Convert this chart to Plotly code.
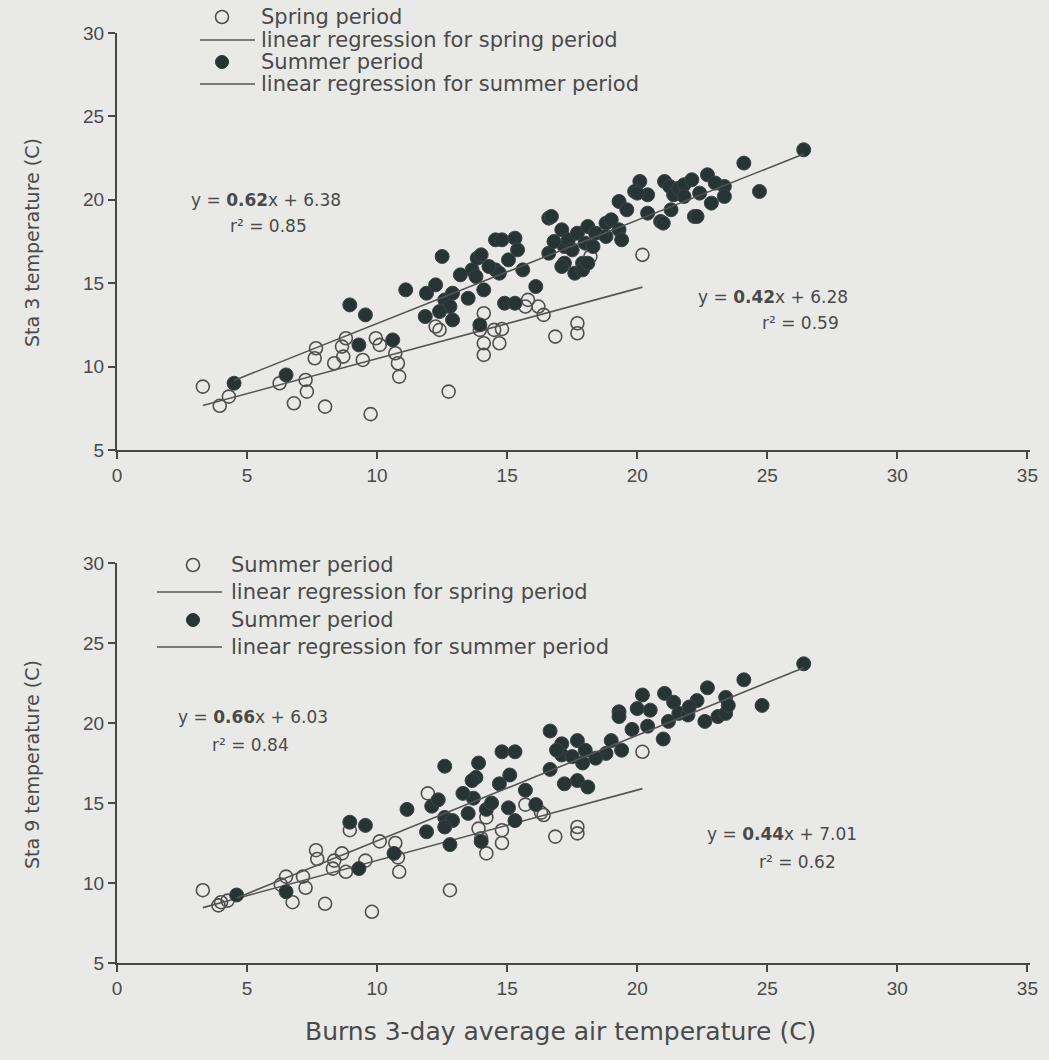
import plotly.graph_objects as go

# ---------------- data ----------------
# Station 3 (top panel)
spring3_x = [3.3, 3.95, 4.3, 6.25, 6.8, 7.25, 7.3, 8.0, 7.65, 7.6, 8.35, 8.7, 8.8, 8.65, 9.45, 9.75,
             9.95, 10.1, 10.7, 10.8, 10.85, 12.75, 12.25, 12.4, 14.1, 13.95, 14.1, 14.1, 14.5, 14.8,
             14.7, 15.8, 16.2, 16.4, 16.85, 17.7, 17.7, 20.2, 18.2, 15.7]
spring3_y = [8.8, 7.65, 8.2, 9.0, 7.8, 9.2, 8.5, 7.6, 11.1, 10.5, 10.2, 10.6, 11.7, 11.2, 10.4, 7.15,
             11.7, 11.3, 10.8, 10.2, 9.4, 8.5, 12.4, 12.2, 13.2, 12.2, 11.4, 10.7, 12.2, 12.25,
             11.4, 14.0, 13.6, 13.1, 11.8, 12.6, 12.0, 16.7, 16.6, 13.6]
summer3_x = [4.5, 6.5, 8.95, 9.55, 9.3, 10.6, 11.1, 11.9, 12.25, 12.5, 11.85, 12.6, 12.8, 12.9, 13.5,
             13.65, 13.85, 14.0, 13.8, 14.1, 13.95, 14.55, 14.55, 12.9, 14.8, 15.3, 14.7, 15.05, 15.6,
             16.1, 14.9, 15.3, 16.6, 17.1, 16.6, 17.2, 17.2, 17.35, 17.1, 17.6, 17.7, 18.1, 18.0,
             17.9, 18.4, 18.8, 19.0, 19.3, 19.4, 19.3, 20.1, 19.9, 20.4, 20.4, 21.05, 21.25, 21.4,
             21.6, 21.8, 22.1, 21.3, 20.9, 22.2, 22.7, 22.85, 23.35, 23.35, 24.1, 24.7, 26.4, 16.7,
             17.9, 18.1, 18.8, 20.0, 21.0, 22.3, 17.5, 18.3, 21.8, 22.4, 23.0, 19.6, 16.8, 15.4,
             14.3, 13.2, 12.4]
summer3_y = [9.0, 9.5, 13.7, 13.1, 11.3, 11.6, 14.6, 14.4, 14.9, 16.6, 13.0, 14.0, 13.6, 12.8, 14.1,
             15.8, 16.5, 16.7, 15.4, 14.6, 12.5, 15.8, 17.6, 14.4, 17.6, 17.7, 15.6, 16.4, 15.8,
             14.8, 13.8, 13.8, 18.9, 18.2, 16.8, 16.2, 17.2, 17.6, 16.0, 15.6, 18.0, 18.4, 17.4,
             16.2, 18.0, 18.6, 18.8, 18.2, 17.6, 19.9, 21.1, 20.5, 20.3, 19.2, 21.1, 20.8, 20.3,
             20.7, 20.9, 21.2, 19.4, 18.7, 19.0, 21.5, 19.8, 20.8, 20.2, 22.2, 20.5, 23.0, 19.0,
             15.8, 16.2, 17.8, 20.4, 18.6, 19.0, 17.0, 17.2, 20.2, 20.4, 21.0, 19.4, 17.5, 17.0,
             16.0, 15.5, 13.3]

# Station 9 (bottom panel)
spring9_x = [3.3, 3.9, 4.25, 4.0, 6.5, 6.75, 6.3, 7.15, 7.25, 8.0, 7.65, 7.7, 8.3, 8.35, 8.65, 8.8,
             8.95, 9.8, 9.55, 10.1, 10.7, 10.8, 10.85, 12.8, 11.95, 13.9, 14.2, 14.8, 14.8, 14.2,
             14.0, 15.7, 16.3, 16.85, 16.4, 17.7, 17.7, 20.2]
spring9_y = [9.55, 8.6, 8.9, 8.8, 10.4, 8.8, 9.9, 10.4, 9.7, 8.7, 12.05, 11.5, 10.9, 11.4, 11.85, 10.7,
             13.3, 8.2, 11.4, 12.6, 12.5, 11.6, 10.7, 9.55, 15.6, 13.4, 14.1, 13.3, 12.5, 11.85,
             12.8, 14.9, 14.4, 12.9, 14.25, 13.5, 13.1, 18.2]
summer9_x = [4.6, 6.5, 8.95, 9.55, 9.3, 10.65, 11.15, 12.6, 12.1, 12.35, 12.6, 12.9, 12.6, 11.9, 12.8,
             13.5, 13.7, 13.9, 13.8, 13.65, 14.0, 14.2, 14.8, 15.3, 14.7, 15.1, 15.05, 15.3, 15.7,
             16.1, 16.65, 16.65, 17.1, 17.1, 17.2, 17.7, 18.0, 17.5, 17.7, 18.1, 18.8, 19.0, 19.4,
             19.3, 19.3, 20.2, 20.0, 20.5, 20.4, 21.0, 21.2, 21.05, 21.4, 21.6, 21.95, 22.3, 22.7,
             22.6, 23.1, 23.4, 23.4, 23.5, 24.1, 24.8, 26.4, 17.9, 18.4, 19.8, 16.9, 22.0, 14.4,
             13.3]
summer9_y = [9.25, 9.45, 13.8, 13.6, 10.9, 11.85, 14.6, 17.3, 14.8, 15.2, 14.1, 13.9, 13.5, 13.2, 12.4,
             14.35, 15.3, 17.5, 16.6, 16.4, 12.6, 14.6, 18.2, 18.2, 16.2, 16.75, 14.7, 13.9, 15.8,
             14.9, 17.1, 19.5, 18.7, 18.0, 16.2, 18.9, 18.3, 17.9, 16.4, 16.0, 18.1, 18.9, 18.3,
             20.7, 20.4, 21.75, 20.9, 20.8, 19.8, 19.0, 20.1, 21.85, 21.3, 20.6, 20.5, 21.4, 22.2,
             20.1, 20.4, 21.6, 20.6, 21.1, 22.7, 21.1, 23.7, 17.5, 17.8, 19.6, 18.3, 21.0, 15.0,
             15.6]

# regression coefficients: [spring, summer]
slope3 = [0.42, 0.62]
intercept3 = [6.28, 6.38]
r2_3 = [0.59, 0.85]
slope9 = [0.44, 0.66]
intercept9 = [7.01, 6.03]
r2_9 = [0.62, 0.84]

legend3_labels = ["Spring period", "linear regression for spring period",
                  "Summer period", "linear regression for summer period"]
legend9_labels = ["Summer period", "linear regression for spring period",
                  "Summer period", "linear regression for summer period"]

x_ticks = [0, 5, 10, 15, 20, 25, 30, 35]
y_ticks = [5, 10, 15, 20, 25, 30]

# ---------------- style ----------------
BG = "#e9e9e7"
TXT = "#4a4a4a"
AX = "#474747"
DARK = "#283434"
OPEN = "#4f4f4f"
LINE = "#555555"
FONT = "DejaVu Sans, Verdana, sans-serif"
TICKFONT = "Liberation Sans, Arial, sans-serif"
W, H = 1049, 1060

fig = go.Figure()


def add_panel(sx, sy, wx, wy, slopes, ints, labels, xa, ya):
    fig.add_trace(go.Scatter(x=sx, y=sy, mode="markers", name=labels[0], xaxis=xa, yaxis=ya,
                             showlegend=False,
                             marker=dict(symbol="circle-open", size=13, color=OPEN,
                                         line=dict(width=1.6, color=OPEN))))
    lx0 = [min(sx), max(sx)]
    fig.add_trace(go.Scatter(x=lx0, y=[slopes[0] * v + ints[0] for v in lx0], mode="lines",
                             name=labels[1], xaxis=xa, yaxis=ya, showlegend=False,
                             line=dict(color=LINE, width=1.6)))
    fig.add_trace(go.Scatter(x=wx, y=wy, mode="markers", name=labels[2], xaxis=xa, yaxis=ya,
                             showlegend=False,
                             marker=dict(symbol="circle", size=14, color=DARK,
                                         line=dict(width=1, color="#3a4646"))))
    lx1 = [min(wx), max(wx)]
    fig.add_trace(go.Scatter(x=lx1, y=[slopes[1] * v + ints[1] for v in lx1], mode="lines",
                             name=labels[3], xaxis=xa, yaxis=ya, showlegend=False,
                             line=dict(color=LINE, width=1.6)))


add_panel(spring3_x, spring3_y, summer3_x, summer3_y, slope3, intercept3, legend3_labels, "x", "y")
add_panel(spring9_x, spring9_y, summer9_x, summer9_y, slope9, intercept9, legend9_labels, "x2", "y2")

x_dom = [117 / W, 1030 / W]
top_dom = [1 - 450 / H, 1 - 33 / H]
bot_dom = [1 - 963 / H, 1 - 563 / H]

axis_common = dict(showline=True, linecolor=AX, linewidth=2, ticks="outside", tickcolor=AX,
                   tickwidth=1.5, ticklen=7, showgrid=False, zeroline=False, automargin=False,
                   tickfont=dict(family=TICKFONT, size=19, color=TXT))

fig.update_layout(
    width=W, height=H,
    margin=dict(l=0, r=0, t=0, b=0, pad=0, autoexpand=False),
    paper_bgcolor=BG, plot_bgcolor=BG,
    font=dict(family=FONT, color=TXT),
    showlegend=False,
    xaxis=dict(domain=x_dom, range=[0, 35.1], tickvals=x_ticks, anchor="y", **axis_common),
    yaxis=dict(domain=top_dom, range=[5, 30], tickvals=y_ticks, anchor="x", **axis_common),
    xaxis2=dict(domain=x_dom, range=[0, 35.1], tickvals=x_ticks, anchor="y2", **axis_common),
    yaxis2=dict(domain=bot_dom, range=[5, 30], tickvals=y_ticks, anchor="x2", **axis_common),
)


def px(x):
    return x / W


def py(y):
    return 1 - y / H


# ---------- legends (drawn as key glyphs + text) ----------
def draw_legend(labels, rows, sym_x, line_x0, line_x1, text_x, size):
    r = 6.5
    fig.add_shape(type="circle", xref="paper", yref="paper",
                  x0=px(sym_x - r), x1=px(sym_x + r), y0=py(rows[0] + r), y1=py(rows[0] - r),
                  line=dict(color=OPEN, width=1.6), fillcolor="rgba(0,0,0,0)")
    fig.add_shape(type="circle", xref="paper", yref="paper",
                  x0=px(sym_x - r), x1=px(sym_x + r), y0=py(rows[2] + r), y1=py(rows[2] - r),
                  line=dict(color=DARK, width=1), fillcolor=DARK)
    for ri in (1, 3):
        fig.add_shape(type="line", xref="paper", yref="paper",
                      x0=px(line_x0), x1=px(line_x1), y0=py(rows[ri]), y1=py(rows[ri]),
                      line=dict(color=LINE, width=1.6))
    for lab, yy in zip(labels, rows):
        fig.add_annotation(xref="paper", yref="paper", x=px(text_x), y=py(yy), text=lab,
                           xanchor="left", yanchor="middle", showarrow=False,
                           font=dict(family=FONT, size=size, color=TXT))


draw_legend(legend3_labels, [17, 40, 62, 84], 222, 200, 255, 259, 21)
draw_legend(legend9_labels, [565, 592, 620, 647], 193, 157, 222, 229, 21)

ann_font = dict(family=FONT, size=17, color=TXT)


def eq_text(s, b):
    return f"y = <b>{s:.2f}</b>x + {b:.2f}"


annotations = [
    # top panel
    dict(x=266, y=200, text=eq_text(slope3[1], intercept3[1])),
    dict(x=268, y=226, text=f"r\u00b2 = {r2_3[1]:.2f}"),
    dict(x=773, y=297, text=eq_text(slope3[0], intercept3[0])),
    dict(x=800, y=323, text=f"r\u00b2 = {r2_3[0]:.2f}"),
    # bottom panel
    dict(x=253, y=717, text=eq_text(slope9[1], intercept9[1])),
    dict(x=250, y=745, text=f"r\u00b2 = {r2_9[1]:.2f}"),
    dict(x=782, y=834, text=eq_text(slope9[0], intercept9[0])),
    dict(x=797, y=862, text=f"r\u00b2 = {r2_9[0]:.2f}"),
]
for a in annotations:
    fig.add_annotation(xref="paper", yref="paper", showarrow=False, font=ann_font,
                       xanchor="center", yanchor="middle", x=px(a["x"]), y=py(a["y"]),
                       text=a["text"])

# axis titles
title_kw = dict(xref="paper", yref="paper", showarrow=False, xanchor="center", yanchor="middle")
fig.add_annotation(x=px(32), y=py(243), text="Sta 3 temperature (C)", textangle=-90,
                   font=dict(family=FONT, size=19, color=TXT), **title_kw)
fig.add_annotation(x=px(32), y=py(765), text="Sta 9 temperature (C)", textangle=-90,
                   font=dict(family=FONT, size=19, color=TXT), **title_kw)
fig.add_annotation(x=px(560), y=py(1031), text="Burns 3-day average air temperature (C)",
                   font=dict(family=FONT, size=25, color=TXT), **title_kw)

fig.write_html("out.html", config={"displayModeBar": False},
               post_script="document.body.style.margin='0';document.body.style.overflow='hidden';")
